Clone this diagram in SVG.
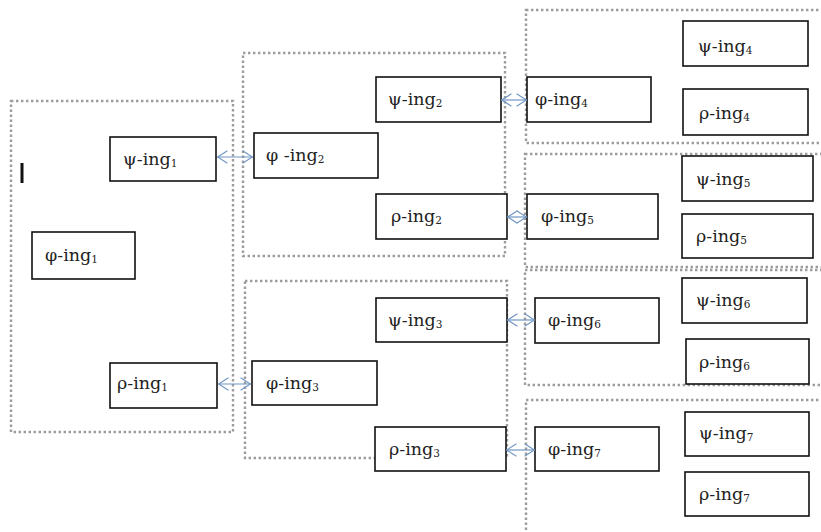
<svg xmlns="http://www.w3.org/2000/svg" width="821" height="532" viewBox="0 0 821 532">
  <style>
    .grp { fill: none; stroke: #9c9c9c; stroke-width: 2.4; stroke-dasharray: 2.4 2.6; }
    .box { fill: #ffffff; stroke: #111111; stroke-width: 1.6; }
    .lbl { font-family: "DejaVu Serif", "Liberation Serif", serif; font-size: 17.5px; fill: #222222; }
    .sub { font-size: 10.5px; }
    .link { stroke: #7196c4; stroke-width: 1.2; fill: none; marker-start: url(#chev); marker-end: url(#chev); }
  </style>
  <defs>
    <marker id="chev" viewBox="0 0 11 14" refX="11" refY="7" markerWidth="11" markerHeight="14" markerUnits="userSpaceOnUse" orient="auto-start-reverse">
      <path d="M0.6,0.8 L10.4,7 L0.6,13.2" fill="none" stroke="#7196c4" stroke-width="1.2"/>
    </marker>
  </defs>
  <rect width="821" height="532" fill="#ffffff"/>

  <!-- dotted grouping frames -->
  <g id="frames">
    <rect class="grp" x="11" y="101" width="222" height="331"/>
    <rect class="grp" x="243" y="53" width="262" height="203"/>
    <rect class="grp" x="245" y="281" width="262" height="177"/>
    <rect class="grp" x="526" y="10" width="310" height="133"/>
    <rect class="grp" x="525" y="154" width="310" height="113"/>
    <rect class="grp" x="525" y="270" width="310" height="115"/>
    <rect class="grp" x="526" y="400" width="310" height="150"/>
  </g>

  <!-- small vertical bar at left -->
  <rect x="20.5" y="163" width="3" height="20" fill="#111111"/>

  <!-- level 1 -->
  <g id="n-phi1"><rect class="box" x="32" y="232" width="103" height="47"/><text class="lbl" x="45" y="261">φ-ing<tspan class="sub" dy="2">1</tspan></text></g>
  <g id="n-psi1"><rect class="box" x="110" y="137" width="106" height="44"/><text class="lbl" x="123" y="165">ψ-ing<tspan class="sub" dy="2">1</tspan></text></g>
  <g id="n-rho1"><rect class="box" x="110" y="363" width="107" height="45"/><text class="lbl" x="117" y="389">ρ-ing<tspan class="sub" dy="2">1</tspan></text></g>

  <!-- level 2 -->
  <g id="n-phi2"><rect class="box" x="254" y="133" width="124" height="45"/><text class="lbl" x="266" y="161">φ -ing<tspan class="sub" dy="2">2</tspan></text></g>
  <g id="n-psi2"><rect class="box" x="376" y="77" width="125" height="45"/><text class="lbl" x="388" y="105">ψ-ing<tspan class="sub" dy="2">2</tspan></text></g>
  <g id="n-rho2"><rect class="box" x="376" y="194" width="131" height="45"/><text class="lbl" x="391" y="222">ρ-ing<tspan class="sub" dy="2">2</tspan></text></g>
  <g id="n-phi3"><rect class="box" x="252" y="361" width="125" height="44"/><text class="lbl" x="266" y="389">φ-ing<tspan class="sub" dy="2">3</tspan></text></g>
  <g id="n-psi3"><rect class="box" x="376" y="298" width="131" height="44"/><text class="lbl" x="388" y="326">ψ-ing<tspan class="sub" dy="2">3</tspan></text></g>
  <g id="n-rho3"><rect class="box" x="375" y="427" width="131" height="44"/><text class="lbl" x="389" y="455">ρ-ing<tspan class="sub" dy="2">3</tspan></text></g>

  <!-- level 3 -->
  <g id="n-phi4"><rect class="box" x="527" y="77" width="124" height="45"/><text class="lbl" x="535" y="105">φ-ing<tspan class="sub" dy="2">4</tspan></text></g>
  <g id="n-psi4"><rect class="box" x="683" y="21" width="125" height="45"/><text class="lbl" x="698" y="52">ψ-ing<tspan class="sub" dy="2">4</tspan></text></g>
  <g id="n-rho4"><rect class="box" x="683" y="89" width="125" height="46"/><text class="lbl" x="699" y="119">ρ-ing<tspan class="sub" dy="2">4</tspan></text></g>
  <g id="n-phi5"><rect class="box" x="527" y="194" width="131" height="45"/><text class="lbl" x="541" y="222">φ-ing<tspan class="sub" dy="2">5</tspan></text></g>
  <g id="n-psi5"><rect class="box" x="682" y="156" width="131" height="45"/><text class="lbl" x="696" y="185">ψ-ing<tspan class="sub" dy="2">5</tspan></text></g>
  <g id="n-rho5"><rect class="box" x="682" y="214" width="131" height="44"/><text class="lbl" x="696" y="242">ρ-ing<tspan class="sub" dy="2">5</tspan></text></g>
  <g id="n-phi6"><rect class="box" x="535" y="298" width="124" height="45"/><text class="lbl" x="548" y="326">φ-ing<tspan class="sub" dy="2">6</tspan></text></g>
  <g id="n-psi6"><rect class="box" x="682" y="278" width="125" height="45"/><text class="lbl" x="696" y="306">ψ-ing<tspan class="sub" dy="2">6</tspan></text></g>
  <g id="n-rho6"><rect class="box" x="686" y="339" width="123" height="45"/><text class="lbl" x="699" y="368">ρ-ing<tspan class="sub" dy="2">6</tspan></text></g>
  <g id="n-phi7"><rect class="box" x="535" y="427" width="124" height="44"/><text class="lbl" x="548" y="455">φ-ing<tspan class="sub" dy="2">7</tspan></text></g>
  <g id="n-psi7"><rect class="box" x="685" y="412" width="124" height="44"/><text class="lbl" x="699" y="439">ψ-ing<tspan class="sub" dy="2">7</tspan></text></g>
  <g id="n-rho7"><rect class="box" x="685" y="472" width="124" height="44"/><text class="lbl" x="699" y="500">ρ-ing<tspan class="sub" dy="2">7</tspan></text></g>

  <!-- two-way connectors -->
  <g id="connectors">
    <line class="link" x1="217" y1="157" x2="253" y2="157"/>
    <line class="link" x1="218" y1="384" x2="251" y2="384"/>
    <line class="link" x1="501" y1="100" x2="527" y2="100"/>
    <line class="link" x1="507" y1="217" x2="527" y2="217"/>
    <line class="link" x1="507" y1="320" x2="535" y2="320"/>
    <line class="link" x1="506" y1="450" x2="535" y2="450"/>
  </g>
</svg>
